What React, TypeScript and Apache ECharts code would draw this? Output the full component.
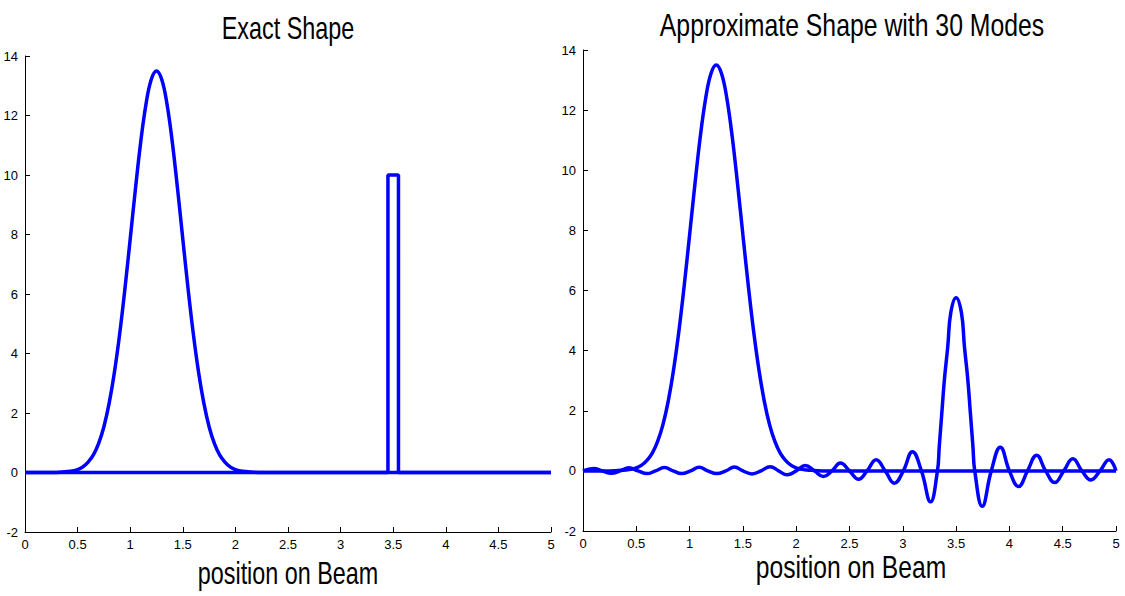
import React, { useEffect, useRef } from "react";
import * as echarts from "echarts";

// ---- data ----
const xTicks = ["0", "0.5", "1", "1.5", "2", "2.5", "3", "3.5", "4", "4.5", "5"];
const yTicks = ["-2", "0", "2", "4", "6", "8", "10", "12", "14"];

// Exact shape: Gaussian bump (zero elsewhere)
const gaussX = [0, 0.25, 0.4, 0.45, 0.5, 0.55, 0.6, 0.65, 0.7, 0.75, 0.8, 0.85, 0.9, 0.95, 1.0, 1.05, 1.1, 1.15, 1.2, 1.25,
  1.3, 1.35, 1.4, 1.45, 1.5, 1.55, 1.6, 1.65, 1.7, 1.75, 1.8, 1.85, 1.9, 1.95, 2.0, 2.05, 2.1, 2.25, 2.5, 5];
const gaussY = [0, 0, 0.03, 0.05, 0.1, 0.19, 0.35, 0.59, 0.98, 1.54, 2.33, 3.37, 4.66, 6.18, 7.85, 9.54, 11.11, 12.38, 13.21, 13.5,
  13.21, 12.38, 11.11, 9.54, 7.85, 6.18, 4.66, 3.37, 2.33, 1.54, 0.98, 0.59, 0.35, 0.19, 0.1, 0.05, 0.03, 0, 0, 0];

// Exact shape: narrow rectangle (zero elsewhere)
const rectX = [0, 3.45, 3.45, 3.55, 3.55, 5];
const rectY = [0, 0, 10, 10, 0, 0];

// Approximation with 30 modes: Gaussian part (looks identical to the exact bump)
const approxGaussX = gaussX;
const approxGaussY = gaussY;

// Approximation with 30 modes: rectangle part (spike with ringing)
const approxRectX = [0, 0.1, 0.18, 0.265, 0.35, 0.43, 0.515, 0.6, 0.68, 0.765, 0.845, 0.925, 1.01, 1.09, 1.17, 1.255, 1.34,
  1.42, 1.5, 1.585, 1.67, 1.755, 1.835, 1.915, 2.0, 2.085, 2.17, 2.255, 2.335, 2.415, 2.5, 2.585, 2.665, 2.75, 2.835,
  2.92, 3.005, 3.09, 3.175, 3.26, 3.325, 3.342, 3.366, 3.39, 3.422, 3.45, 3.5, 3.55, 3.578, 3.61, 3.634, 3.658, 3.675,
  3.745, 3.83, 3.915, 4.0, 4.085, 4.17, 4.255, 4.34, 4.425, 4.51, 4.595, 4.68, 4.765, 4.85, 4.935, 5.0];
const approxRectY = [0, 0.08, 0, -0.08, 0, 0.1, 0, -0.09, 0, 0.11, 0, -0.09, 0, 0.12, 0, -0.09, 0,
  0.13, 0, -0.1, 0, 0.14, 0, -0.13, 0, 0.18, 0, -0.19, 0, 0.26, 0, -0.28, 0, 0.37, 0,
  -0.41, 0, 0.64, 0, -1.03, 0, 0.81, 1.92, 3.03, 4.14, 5.26, 5.76, 5.26, 4.14, 3.03, 1.92, 0.81, 0,
  -1.18, 0, 0.79, 0, -0.52, 0, 0.52, 0, -0.39, 0, 0.4, 0, -0.3, 0, 0.37, 0];

const titles = ["Exact Shape", "Approximate Shape with 30 Modes"];
const xName = "position on Beam";

const pairs = (xs: number[], ys: number[]) => xs.map((x, i) => [x, ys[i]]);

const BLUE = "#0000ff";
const tickFont = '"Liberation Sans Narrow", "Liberation Sans", Arial, sans-serif';
const bigFont = '"Liberation Sans", Arial, sans-serif';

export default function App() {
  const ref = useRef<HTMLDivElement>(null);
  useEffect(() => {
    document.body.style.margin = "0";
    const chart = echarts.init(ref.current!, undefined, { renderer: "svg" });
    const xAxisBase = (gi: number) => ({
      type: "value",
      gridIndex: gi,
      min: 0,
      max: 5,
      interval: 0.5,
      axisLine: { show: true, onZero: false, lineStyle: { color: "#000", width: 1 } },
      axisTick: { show: true, inside: true, length: 5, lineStyle: { color: "#000" } },
      axisLabel: { color: "#000", fontSize: 13, fontFamily: tickFont, margin: 6, showMinLabel: true, showMaxLabel: true },
      splitLine: { show: false },
    });
    const yAxisBase = (gi: number) => ({
      type: "value",
      gridIndex: gi,
      min: -2,
      max: 14,
      interval: 2,
      axisLine: { show: true, onZero: false, lineStyle: { color: "#000", width: 1 } },
      axisTick: { show: true, inside: true, length: 5, lineStyle: { color: "#000" } },
      axisLabel: { color: "#000", fontSize: 13, fontFamily: tickFont, margin: 7 },
      splitLine: { show: false },
    });
    const line = (xi: number, xs: number[], ys: number[], smooth: number | boolean) => ({
      type: "line",
      xAxisIndex: xi,
      yAxisIndex: xi,
      data: pairs(xs, ys),
      smooth,
      symbol: "none",
      showSymbol: false,
      lineStyle: { color: BLUE, width: 3.5 },
      itemStyle: { color: BLUE },
    });
    const bigText = (text: string, x: number, y: number, sx: number) => ({
      type: "text",
      x,
      y,
      scaleX: sx,
      style: {
        text,
        font: `32px ${bigFont}`,
        fill: "#000",
        textAlign: "center",
        textVerticalAlign: "middle",
        align: "center",
        verticalAlign: "middle",
      },
    });
    chart.setOption({
      animation: false,
      backgroundColor: "#fff",
      grid: [
        { left: 25, top: 56, width: 526, height: 476 },
        { left: 583, top: 50, width: 533, height: 481 },
      ],
      xAxis: [xAxisBase(0), xAxisBase(1)],
      yAxis: [yAxisBase(0), yAxisBase(1)],
      series: [
        line(0, gaussX, gaussY, 0.4),
        line(0, rectX, rectY, false),
        line(1, approxGaussX, approxGaussY, 0.4),
        line(1, approxRectX, approxRectY, 0.45),
      ],
      graphic: [
        bigText(titles[0], 288, 28, 0.73),
        bigText(titles[1], 852, 25, 0.775),
        bigText(xName, 288, 573, 0.73),
        bigText(xName, 851, 567, 0.77),
      ],
    });
    return () => chart.dispose();
  }, []);
  return <div ref={ref} style={{ width: 1125, height: 596 }} />;
}
